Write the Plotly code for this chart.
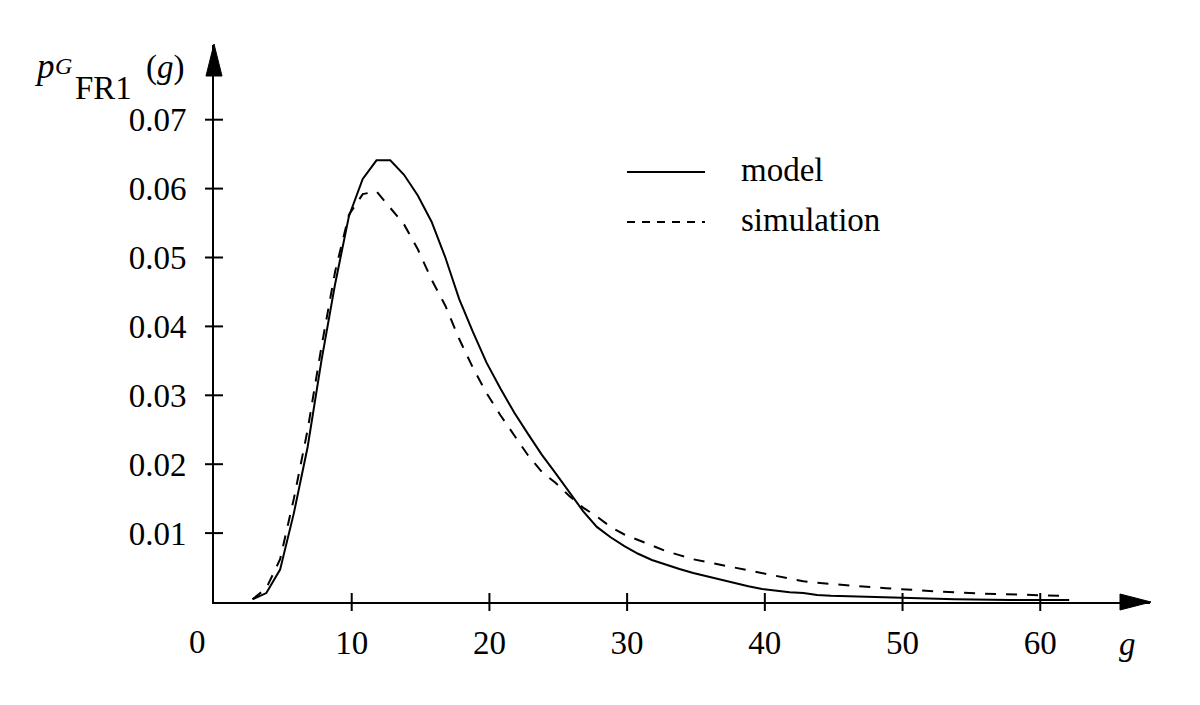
import plotly.graph_objects as go

# ---------------- data ----------------
g_model = [2.8, 3.8, 4.8, 5.8, 6.8, 7.8, 8.8, 9.8, 10.8, 11.8, 12.8, 13.8, 14.8, 15.8,
           16.8, 17.8, 18.8, 19.8, 20.8, 21.8, 22.8, 23.8, 24.8, 25.8, 26.8, 27.8,
           28.8, 29.8, 30.8, 31.8, 32.8, 33.8, 34.8, 35.8, 36.8, 37.8, 38.8, 39.8,
           40.8, 41.8, 42.8, 43.8, 44.8, 46.8, 48.8, 50.8, 53.8, 57.8, 62.1]
p_model = [0.0004, 0.0013, 0.0047, 0.0129, 0.0225, 0.0350, 0.0462, 0.0560, 0.0614,
           0.0641, 0.0641, 0.0620, 0.0590, 0.0552, 0.0500, 0.0440, 0.0392, 0.0347,
           0.0310, 0.0275, 0.0244, 0.0214, 0.0187, 0.0159, 0.0132, 0.0109, 0.0094,
           0.0081, 0.0070, 0.0061, 0.0054, 0.0048, 0.0042, 0.0037, 0.0032, 0.0027,
           0.0023, 0.0019, 0.0016, 0.0014, 0.0013, 0.0010, 0.0009, 0.0008, 0.0006,
           0.0005, 0.0004, 0.0003, 0.0003]

g_sim = [2.8, 3.8, 4.8, 5.8, 6.8, 7.8, 8.8, 9.8, 10.8, 11.8, 12.8, 13.8, 14.8, 15.8,
         16.8, 17.8, 18.8, 19.8, 20.8, 21.8, 22.8, 23.8, 24.8, 25.8, 26.8, 27.8,
         28.8, 29.8, 30.8, 31.8, 32.8, 33.8, 34.8, 35.8, 36.8, 37.8, 38.8, 39.8,
         40.8, 41.8, 42.8, 43.8, 44.8, 46.8, 48.8, 50.8, 52.8, 55.8, 58.8, 61.7]
p_sim = [0.0004, 0.0020, 0.0062, 0.0150, 0.0250, 0.0370, 0.0480, 0.0562, 0.0592,
         0.0596, 0.0572, 0.0548, 0.0512, 0.0468, 0.0430, 0.0382, 0.0340, 0.0303,
         0.0271, 0.0242, 0.0213, 0.0189, 0.0173, 0.0154, 0.0137, 0.0124, 0.0109,
         0.0098, 0.0090, 0.0082, 0.0074, 0.0068, 0.0062, 0.0058, 0.0054, 0.0049,
         0.0045, 0.0041, 0.0037, 0.0034, 0.0030, 0.0028, 0.0026, 0.0023, 0.0020,
         0.0017, 0.0015, 0.0012, 0.0010, 0.0009]

x_ticks = [10, 20, 30, 40, 50, 60]
x_tick_text = ["10", "20", "30", "40", "50", "60"]
y_ticks = [0.01, 0.02, 0.03, 0.04, 0.05, 0.06, 0.07]
y_tick_text = ["0.01", "0.02", "0.03", "0.04", "0.05", "0.06", "0.07"]

series_names = ["model", "simulation"]

# ---------------- layout geometry ----------------
W, H = 1200, 705
L, R, T, B = 214, 1150, 45, 602
PW, PH = R - L, B - T
X_RANGE = [0, 67.97]
Y_RANGE = [0, PH / 6890.0]
FONT = "Liberation Serif"
FS = 33


def px(x):
    return (x - L) / PW


def py(y):
    return (B - y) / PH


fig = go.Figure()
fig.add_trace(go.Scatter(x=g_model, y=p_model, mode="lines", name=series_names[0],
                         line=dict(color="black", width=2), showlegend=False))
fig.add_trace(go.Scatter(x=g_sim, y=p_sim, mode="lines", name=series_names[1],
                         line=dict(color="black", width=2, dash="11px,10px"),
                         showlegend=False))

shapes = []
# tick marks crossing the axes
for t in x_ticks:
    shapes.append(dict(type="line", xref="x", yref="paper", x0=t, x1=t,
                       y0=py(611), y1=py(593), line=dict(color="black", width=2)))
for t in y_ticks:
    shapes.append(dict(type="line", xref="paper", yref="y", x0=px(205), x1=px(223),
                       y0=t, y1=t, line=dict(color="black", width=2)))


def tri(points):
    return "M " + " L ".join(f"{px(a):.5f},{py(b):.5f}" for a, b in points) + " Z"


# arrow heads
shapes.append(dict(type="path", xref="paper", yref="paper",
                   path=tri([(1120, 594), (1151, 602), (1120, 610)]),
                   fillcolor="black", line=dict(color="black", width=1)))
shapes.append(dict(type="path", xref="paper", yref="paper",
                   path=tri([(206, 76), (214, 44), (222, 76)]),
                   fillcolor="black", line=dict(color="black", width=1)))

# legend samples
shapes.append(dict(type="line", xref="paper", yref="paper", x0=px(627), x1=px(705),
                   y0=py(172), y1=py(172), line=dict(color="black", width=2)))
shapes.append(dict(type="line", xref="paper", yref="paper", x0=px(627), x1=px(705),
                   y0=py(222), y1=py(222), line=dict(color="black", width=2, dash="8px,7px")))

annotations = []


def ann(text, x, y, size=FS, xanchor="center"):
    annotations.append(dict(text=text, xref="paper", yref="paper", x=px(x), y=py(y),
                            xanchor=xanchor, yanchor="middle", showarrow=False,
                            font=dict(family=FONT, size=size, color="black")))


ann(series_names[0], 739, 170, xanchor="left")
ann(series_names[1], 739, 220, xanchor="left")
ann("0", 197, 642)
ann("<i>g</i>", 1127, 644)
# y-axis label  p_{G_FR1}(g)
ann("<i>p</i>", 44, 66, size=35)
ann("<i>G</i>", 63, 66, size=24)
ann("FR1", 103, 88)
ann("(<i>g</i>)", 165, 68)

fig.update_layout(
    width=W, height=H,
    margin=dict(l=L, r=W - R, t=T, b=H - B, pad=0),
    paper_bgcolor="white", plot_bgcolor="white",
    shapes=shapes, annotations=annotations,
    xaxis=dict(range=X_RANGE, showgrid=False, zeroline=False, showline=True,
               linecolor="black", linewidth=2, ticks="", tickvals=x_ticks,
               ticktext=x_tick_text, ticklabelstandoff=10,
               tickfont=dict(family=FONT, size=FS, color="black")),
    yaxis=dict(range=Y_RANGE, showgrid=False, zeroline=False, showline=True,
               linecolor="black", linewidth=2, ticks="", tickvals=y_ticks,
               ticktext=y_tick_text, ticklabelstandoff=19,
               tickfont=dict(family=FONT, size=FS, color="black")),
)

fig.write_html("out.html", config={"displayModeBar": False},
               post_script="document.body.style.margin='0px';")
